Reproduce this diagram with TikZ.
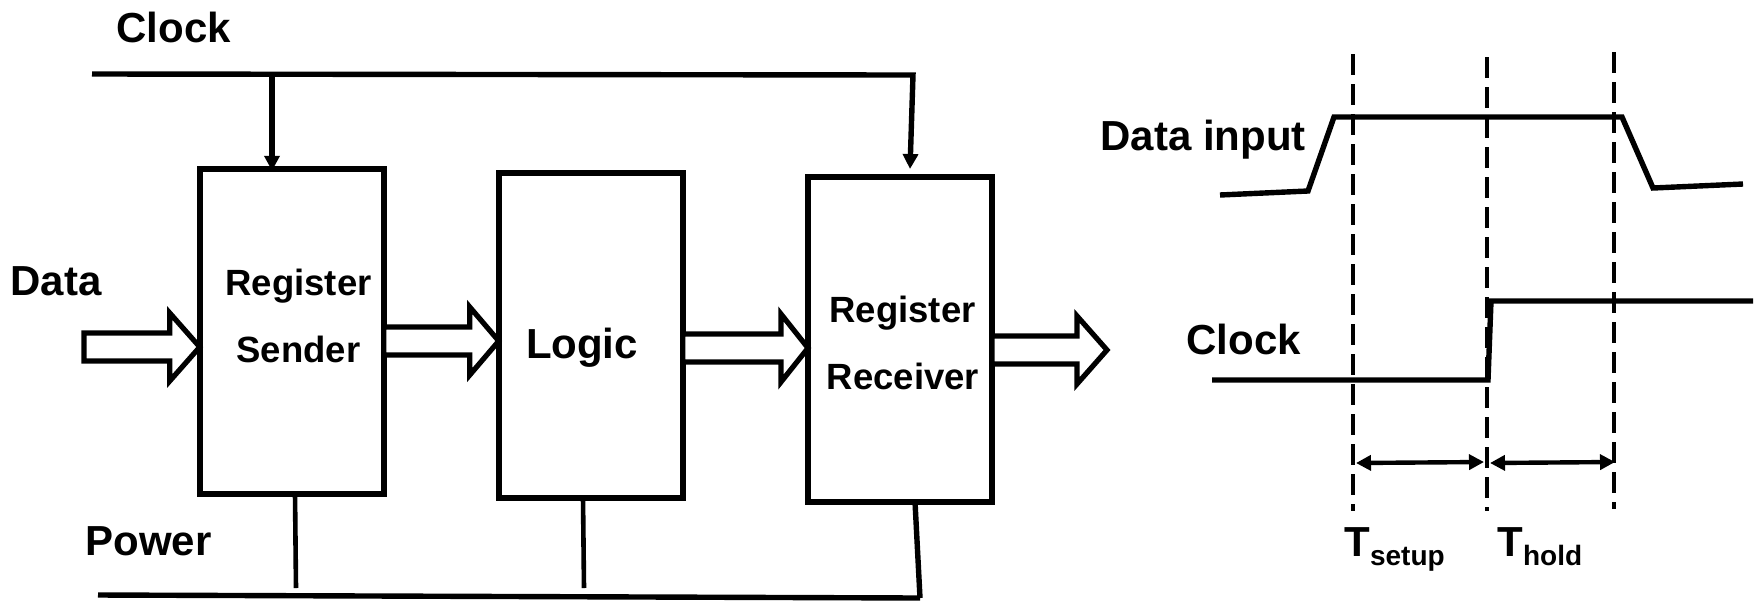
\documentclass[tikz,border=0pt]{standalone}
\usepackage{fontspec}
\setmainfont{Liberation Sans}
\usetikzlibrary{arrows.meta,calc}
\newcommand\blockarrow[3]{%
  \draw[blk] let \p1=(#1), \p2=(#2) in
    (\x1,\y1+7pt) -- (\x2-#3,\y1+7pt) -- (\x2-#3,\y1+17pt) -- (\x2,\y1)
    -- (\x2-#3,\y1-17pt) -- (\x2-#3,\y1-7pt) -- (\x1,\y1-7pt) -- cycle;}
\begin{document}
\begin{tikzpicture}[x=0.5pt,y=-0.5pt,
  box/.style={draw, line width=2.8pt, minimum width=92pt, minimum height=162.5pt, inner sep=0pt, outer sep=0pt},
  lbl/.style={inner sep=0pt, font=\fontsize{21pt}{25pt}\selectfont\bfseries},
  blbl/.style={inner sep=0pt, anchor=base, font=\fontsize{18.25pt}{22pt}\selectfont\bfseries},
  blk/.style={draw, fill=white, line width=2.6pt, line join=miter},
  bus/.style={line width=2.7pt},
  pwr/.style={line width=2.3pt},
  wave/.style={line width=2.7pt, line join=miter},
  dashv/.style={line width=2.4pt, dash pattern=on 10.5pt off 4.5pt},
  tarr/.style={line width=2.2pt, {Triangle[width=7.5pt,length=7.5pt]}-{Triangle[width=7.5pt,length=7.5pt]}},
  clktip/.style={-{Triangle[width=7.5pt,length=7.5pt]}}
]
\useasboundingbox (0,0) rectangle (1756,601);

% blocks
\node[box] (snd) at (291.75,331.25) {};
\node[box] (lgc) at (590.75,335.5) {};
\node[box] (rcv) at (900,339.25) {};

% labels
\node[lbl, anchor=base west] (clklbl) at (116,42) {Clock};
\node[lbl, anchor=base west] (datalbl) at (10,295) {Data};
\node[lbl, anchor=base west] (pwrlbl) at (85,555) {Power};
\node[blbl] (snd1) at (298.5,295) {Register};
\node[blbl] (snd2) at (298.5,362) {Sender};
\node[lbl, anchor=base] (lgct) at (582,358) {Logic};
\node[blbl] (rcv1) at (902.5,322) {Register};
\node[blbl] (rcv2) at (903,389) {Receiver};

% clock bus
\coordinate (clkL) at (92,74);
\coordinate (clkS) at (272,74);
\coordinate (clkR) at (913,75);
\coordinate (clkT) at (910,169);
\draw[bus, clktip] (clkL) -- (clkR) -- (clkT);
\draw[bus, clktip] (clkS) -- ($(snd.north -| clkS)+(0,2)$);

% power bus
\coordinate (pwL) at (98,595);
\coordinate (pwR) at (920,598);
\draw[bus] (pwL) -- (pwR);
\draw[pwr] (snd.south -| 295,0) -- (296,588);
\draw[pwr] (lgc.south -| 583,0) -- (584,588);
\draw[bus] (rcv.south -| 915,0) -- (pwR);

% block arrows
\coordinate (a1s) at (84,347);
\blockarrow{a1s}{snd.west |- a1s}{15pt}
\coordinate (a2y) at (0,341);
\blockarrow{snd.east |- a2y}{lgc.west |- a2y}{14.5pt}
\coordinate (a3y) at (0,348);
\blockarrow{lgc.east |- a3y}{rcv.west |- a3y}{13.5pt}
\coordinate (a4e) at (1107,350);
\blockarrow{rcv.east |- a4e}{a4e}{15pt}

% timing diagram
\node[lbl, anchor=base west] (dinlbl) at (1100,150) {Data input};
\node[lbl, anchor=base west] (clk2lbl) at (1186,354) {Clock};
\node[lbl, anchor=base west] (tsu) at (1344,556) {T\raisebox{-4.5pt}{\fontsize{14pt}{14pt}\selectfont setup}};
\node[lbl, anchor=base west] (tho) at (1497,556) {T\raisebox{-4.5pt}{\fontsize{14pt}{14pt}\selectfont hold}};

\draw[wave] (1220,195) -- (1308,191) -- (1334,117) -- (1622,117) -- (1653,188) -- (1743,184);
\draw[wave] (1212,380) -- (1488,380) -- (1491,301) -- (1753,301);

\coordinate (d1t) at (1353,54);  \coordinate (d1b) at (1353,511);
\coordinate (d2t) at (1487,57);  \coordinate (d2b) at (1487,511);
\coordinate (d3t) at (1614,52);  \coordinate (d3b) at (1614,509);
\draw[dashv] (d1t) -- (d1b);
\draw[dashv] (d2t) -- (d2b);
\draw[dashv] (d3t) -- (d3b);

\coordinate (s1) at (1356,463); \coordinate (s2) at (1484,462);
\coordinate (h1) at (1490,463); \coordinate (h2) at (1615,462);
\draw[tarr] (s1) -- (s2);
\draw[tarr] (h1) -- (h2);
\end{tikzpicture}
\end{document}
